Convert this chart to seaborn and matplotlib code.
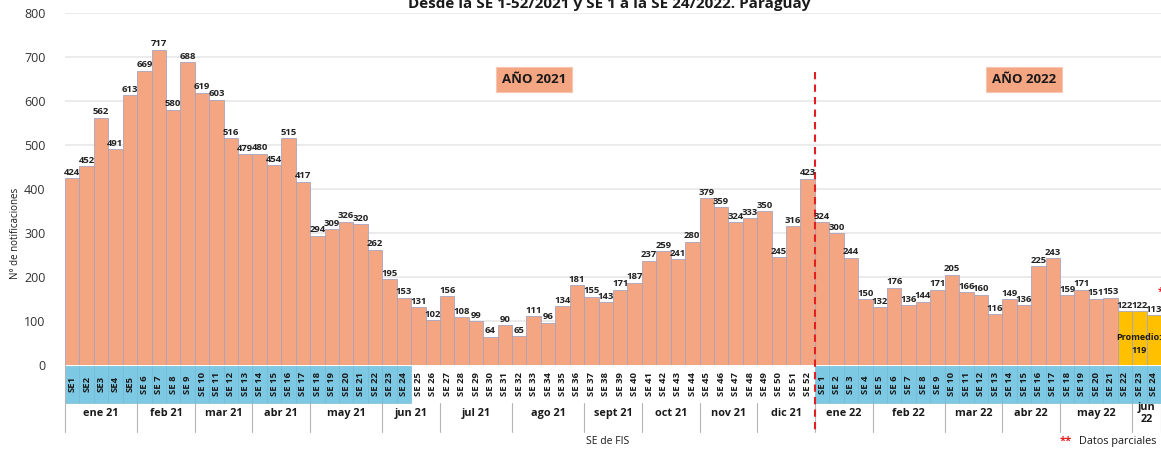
import pandas as pd
import matplotlib.pyplot as plt
import matplotlib.transforms as mtransforms
from matplotlib.patches import Rectangle
import seaborn as sns

# Datos: notificaciones por semana epidemiologica
casos_2021 = [424, 452, 562, 491, 613, 669, 717, 580, 688, 619,
              603, 516, 479, 480, 454, 515, 417, 294, 309, 326,
              320, 262, 195, 153, 131, 102, 156, 108, 99, 64,
              90, 65, 111, 96, 134, 181, 155, 143, 171, 187,
              237, 259, 241, 280, 379, 359, 324, 333, 350, 245,
              316, 423]
casos_2022 = [324, 300, 244, 150, 132, 176, 136, 144, 171, 205,
              166, 160, 116, 149, 136, 225, 243, 159, 171, 151,
              153, 122, 122, 113]

etiquetas_2021 = ['SE1', 'SE2', 'SE3', 'SE4', 'SE5'] + [f'SE {i}' for i in range(6, 53)]
etiquetas_2022 = [f'SE {i}' for i in range(1, 25)]

# meses: (nombre, cantidad de semanas)
meses_2021 = [('ene 21', 5), ('feb 21', 4), ('mar 21', 4), ('abr 21', 4), ('may 21', 5),
              ('jun 21', 4), ('jul 21', 5), ('ago 21', 5), ('sept 21', 4), ('oct 21', 4),
              ('nov 21', 4), ('dic 21', 4)]
meses_2022 = [('ene 22', 4), ('feb 22', 5), ('mar 22', 4), ('abr 22', 4), ('may 22', 5),
              ('jun\n22', 2)]

semanas_parciales = 3  # ultimas 3 semanas de 2022 (promedio)
promedio = 119

salmon = '#F4A683'
oro = '#FFC000'
celeste = '#7DC8E2'

n21 = len(casos_2021)
valores = casos_2021 + casos_2022
etiquetas = etiquetas_2021 + etiquetas_2022
n = len(valores)
grupo = ['normal'] * (n - semanas_parciales) + ['parcial'] * semanas_parciales
df = pd.DataFrame({'pos': range(n), 'n': valores, 'grupo': grupo})

sns.set_style('white')
plt.rcParams['font.family'] = ['Open Sans', 'DejaVu Sans']

fig = plt.figure(figsize=(11.61, 4.51), dpi=100)
ax = fig.add_axes([0.056, 0.1907, 0.944, 0.7805])

sns.barplot(data=df, x='pos', y='n', hue='grupo', palette={'normal': salmon, 'parcial': oro},
            dodge=False, width=1, saturation=1, edgecolor='#A8A4BC', linewidth=0.6,
            legend=False, ax=ax)

for cont in ax.containers:
    ax.bar_label(cont, fmt='%d', padding=1, fontsize=6.8, fontweight='bold', color='#222222')

ax.set_xlim(-0.5, n - 0.5)
ax.set_ylim(0, 800)
ax.set_yticks(range(0, 801, 100))
ax.tick_params(axis='y', labelsize=9, length=0, pad=14, colors='#333333')
ax.set_xticks([])
ax.set_xlabel('')
ax.set_ylabel('')
ax.yaxis.grid(True, color='#E8E8E8', linewidth=1.2)
ax.set_axisbelow(True)
for s in ax.spines.values():
    s.set_visible(False)

trans = mtransforms.blended_transform_factory(ax.transData, ax.transAxes)

# banda de semanas
for i, lab in enumerate(etiquetas):
    semana = i + 1 if i < n21 else i - n21 + 1
    if semana <= 24:
        ax.add_patch(Rectangle((i - 0.5, -0.108), 1, 0.105, transform=trans, clip_on=False,
                               facecolor=celeste, edgecolor='#6CB6D2', linewidth=0.4))
    ax.text(i, -0.055, lab, transform=trans, rotation=90, ha='center', va='center',
            fontsize=6.8, fontweight='bold', color='#1a1a1a')

# meses
x0 = -0.5
ax.plot([x0, x0], [0, -0.19], transform=trans, clip_on=False, color='#B5B5B5', lw=0.8)
for nombre, k in meses_2021 + meses_2022:
    ax.text(x0 + k / 2, -0.137, nombre, transform=trans, ha='center', va='center',
            fontsize=7.8, fontweight='bold', color='#1a1a1a', linespacing=1.1)
    x0 += k
    ax.plot([x0, x0], [-0.108, -0.19], transform=trans, clip_on=False, color='#B5B5B5', lw=0.8)

# linea divisoria entre anios
ax.plot([n21 - 0.5, n21 - 0.5], [665, -155], clip_on=False, color='#E02020',
        lw=1.5, ls=(0, (3.5, 2.5)))

caja = dict(boxstyle='square,pad=0.45', facecolor=salmon, edgecolor='#F8C6B0', linewidth=0.8)
ax.text(32, 648, 'AÑO 2021', ha='center', va='center', fontsize=9.5, fontweight='bold',
        color='#1a1a1a', bbox=caja)
ax.text(66, 648, 'AÑO 2022', ha='center', va='center', fontsize=9.5, fontweight='bold',
        color='#1a1a1a', bbox=caja)

ax.text(n - 2, 48, f'Promedio:\n{promedio}', ha='center', va='center', fontsize=6.5,
        fontweight='bold', color='#1a1a1a', linespacing=1.6, clip_on=False)
ax.text(n - 0.3, 165, '**', ha='center', va='center', fontsize=8, fontweight='bold',
        color='#E02020', clip_on=False)

fig.text(0.525, 0.982, 'Desde la SE 1-52/2021 y SE 1 a la SE 24/2022. Paraguay',
         ha='center', va='baseline', fontsize=11, fontweight='bold', color='#1a1a1a')
fig.text(0.013, 0.483, 'N° de notificaciones', rotation=90, ha='center', va='center',
         fontsize=7, color='#1a1a1a')
fig.text(0.523, 0.022, 'SE de FIS', ha='center', va='center', fontsize=7.5, color='#1a1a1a')
fig.text(0.913, 0.022, '**', ha='left', va='center', fontsize=8, color='#E02020',
         fontweight='bold')
fig.text(0.929, 0.022, 'Datos parciales', ha='left', va='center', fontsize=7.8,
         color='#1a1a1a')

plt.savefig('out.png', dpi=100)
plt.close()
